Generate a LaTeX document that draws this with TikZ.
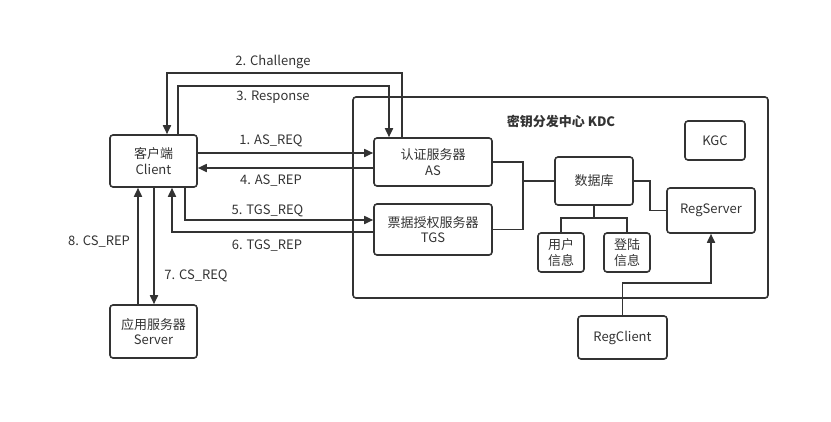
\documentclass[tikz,border=0pt]{standalone}
\usepackage{fontspec}
\setmainfont{Noto Sans CJK SC}
\usetikzlibrary{arrows.meta, positioning, calc}
\definecolor{ink}{HTML}{333333}
\tikzset{
    box/.style={draw=ink, line width=1.6pt, rounded corners=3pt, align=center,
        text=ink, inner sep=0pt, font=\fontsize{13}{15.5}\selectfont},
    link/.style={draw=ink, line width=1.7pt},
    arr/.style={link, -{Triangle[length=9pt, width=8pt]}},
    lbl/.style={text=ink, font=\fontsize{13}{15.5}\selectfont},
}

\begin{document}
\begin{tikzpicture}[x=1pt, y=-1pt]
    \useasboundingbox (0,0) rectangle (831,421);

    % KDC frame
    \node[box, minimum width=415pt, minimum height=201pt] (kdc) at (560.5,197.5) {};
    \node[lbl, font=\fontsize{13}{15.5}\selectfont\bfseries] (kdctitle) at (561,122) {密钥分发中心 KDC};

    \node[box, minimum width=87pt, minimum height=52pt] (client) at (153.5,161) {客户端\\Client};
    \node[box, minimum width=87pt, minimum height=53pt] (server) at (153.5,331.5) {应用服务器\\Server};
    \node[box, minimum width=118pt, minimum height=48pt] (as) at (433,162) {认证服务器\\AS};
    \node[box, minimum width=118pt, minimum height=51pt] (tgs) at (433,229.5) {票据授权服务器\\TGS};
    \node[box, minimum width=78pt, minimum height=48pt] (db) at (594,181) {数据库};
    \node[box, minimum width=60pt, minimum height=39pt] (kgc) at (715,140.5) {KGC};
    \node[box, minimum width=88pt, minimum height=45pt] (regserver) at (711,210.5) {RegServer};
    \node[box, minimum width=46pt, minimum height=39pt] (user) at (561,252.5) {用户\\信息};
    \node[box, minimum width=46pt, minimum height=39pt] (login) at (627,252.5) {登陆\\信息};
    \node[box, minimum width=89pt, minimum height=43pt] (regclient) at (622.5,337.5) {RegClient};

    % client <-> AS
    \draw[arr] (client.east |- 0,153) -- (as.west |- 0,153);
    \draw[arr] (as.west |- 0,168) -- (client.east |- 0,168);
    \draw[arr] (402,0 |- as.north) -- (402,73) -| (167,0 |- client.north);
    \draw[arr] (178,0 |- client.north) -- (178,86) -| (389,0 |- as.north);

    % client <-> TGS
    \draw[arr] (185,0 |- client.south) |- (tgs.west |- 0,220);
    \draw[arr] (tgs.west |- 0,232) -| (172,0 |- client.south);

    % client <-> server
    \draw[arr] (138,0 |- server.north) -- (138,0 |- client.south);
    \draw[arr] (154,0 |- client.south) -- (154,0 |- server.north);

    % inside KDC
    \coordinate (fork) at (523,181);
    \draw[link] (as.east) -| (fork) |- (tgs.east);
    \draw[link] (fork) -- (db.west);
    \draw[link] (db.east) -| (650,0 |- regserver.west) -- (regserver.west);
    \coordinate (split) at (594,218);
    \draw[link] (db.south) -- (split);
    \draw[link] (user.north) |- (split) -| (login.north);
    \draw[arr] (regclient.north) |- (regserver.south |- 0,283) -- (regserver.south);

    % labels
    \node[lbl] (l1) at (271,141) {1. AS\_REQ};
    \node[lbl] (l2) at (273,62) {2. Challenge};
    \node[lbl] (l3) at (273,97) {3. Response};
    \node[lbl] (l4) at (271,181) {4. AS\_REP};
    \node[lbl] (l5) at (267.5,211) {5. TGS\_REQ};
    \node[lbl] (l6) at (267,246) {6. TGS\_REP};
    \node[lbl] (l7) at (196,276) {7. CS\_REQ};
    \node[lbl] (l8) at (99,242) {8. CS\_REP};
\end{tikzpicture}
\end{document}
